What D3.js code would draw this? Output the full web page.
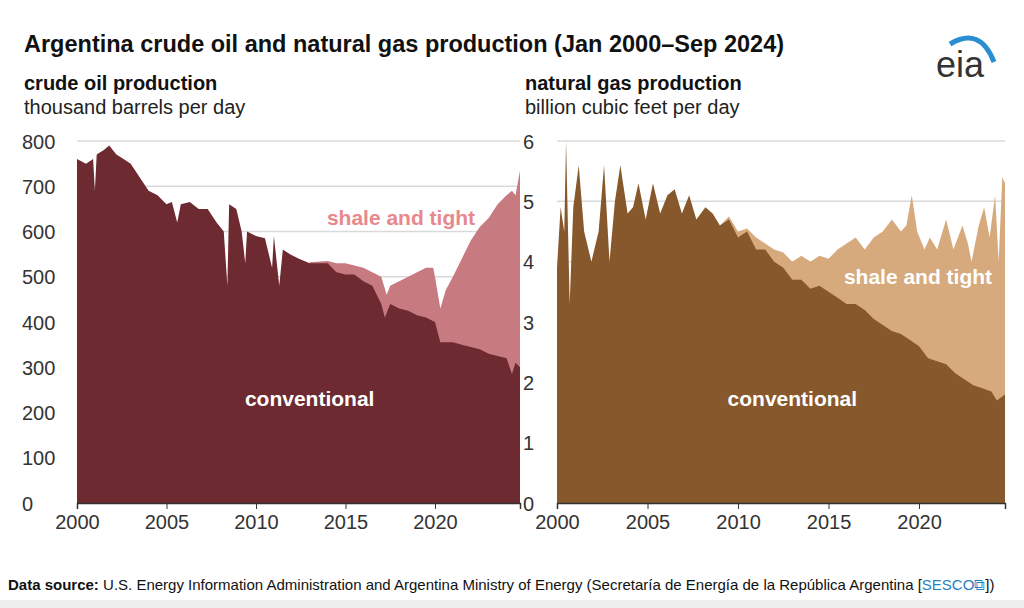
<!DOCTYPE html>
<html><head><meta charset="utf-8">
<script src="https://cdn.jsdelivr.net/npm/d3@7"></script>
<style>body{margin:0;background:#fff}svg{font-family:"Liberation Sans",Arial,sans-serif}</style>
</head><body><svg id="c" width="1024" height="608"></svg>
<script>
const oilYears=[2000.0,2000.5,2000.9,2001.0,2001.1,2001.5,2001.8,2002.2,2002.6,2003.0,2003.5,2004.0,2004.5,2005.0,2005.3,2005.6,2005.8,2006.3,2006.8,2007.3,2007.8,2008.2,2008.4,2008.5,2008.9,2009.2,2009.4,2009.5,2010.0,2010.5,2010.9,2011.0,2011.3,2011.5,2011.9,2012.4,2013.0,2013.5,2014.0,2014.5,2015.0,2015.5,2016.0,2016.5,2017.0,2017.2,2017.5,2018.0,2018.5,2019.0,2019.5,2020.0,2020.3,2021.0,2021.5,2022.0,2022.5,2023.0,2023.5,2024.0,2024.3,2024.5,2024.75];
const oilConv=[760,750,760,690,770,780,790,770,760,750,720,690,680,660,665,620,660,665,650,650,620,600,480,660,650,600,530,600,590,585,520,590,480,560,550,540,530,530,530,510,505,505,490,480,440,410,440,430,425,415,410,400,355,355,350,345,340,330,325,320,285,310,300];
const oilTotYears=[2013.0,2014.0,2014.5,2015.0,2015.5,2016.0,2016.5,2017.0,2017.3,2017.5,2018.0,2018.5,2019.0,2019.5,2019.9,2020.0,2020.3,2020.6,2021.0,2021.5,2022.0,2022.5,2023.0,2023.5,2024.0,2024.3,2024.5,2024.75];
const oilTotal=[532,535,530,530,525,520,510,500,460,480,490,500,510,520,520,500,430,470,500,540,580,610,630,660,680,690,680,735];
const gasYears=[2000.0,2000.2,2000.4,2000.5,2000.7,2000.9,2001.2,2001.5,2001.9,2002.3,2002.6,2002.9,2003.2,2003.5,2003.9,2004.2,2004.5,2004.9,2005.3,2005.7,2006.1,2006.5,2006.9,2007.3,2007.7,2008.2,2008.6,2009.0,2009.5,2010.0,2010.5,2011.0,2011.5,2012.0,2012.5,2013.0,2013.5,2014.0,2014.5,2015.0,2015.5,2016.0,2016.5,2017.0,2017.5,2018.0,2018.5,2019.0,2019.5,2020.0,2020.5,2021.0,2021.5,2022.0,2022.5,2023.0,2023.5,2024.0,2024.3,2024.75];
const gasConv=[3.9,4.9,4.5,6.0,3.3,4.9,5.6,4.5,4.0,4.5,5.6,4.0,5.0,5.6,4.8,4.9,5.3,4.7,5.3,4.8,5.1,5.2,4.8,5.1,4.7,4.9,4.8,4.6,4.7,4.4,4.5,4.2,4.2,4.0,3.9,3.7,3.7,3.55,3.6,3.5,3.4,3.3,3.3,3.2,3.05,2.95,2.85,2.8,2.7,2.6,2.4,2.35,2.3,2.15,2.05,1.95,1.9,1.85,1.7,1.8];
const gasTotYears=[2009.0,2009.5,2010.0,2010.5,2011.0,2011.5,2012.0,2012.5,2013.0,2013.5,2014.0,2014.5,2015.0,2015.5,2016.0,2016.5,2017.0,2017.5,2018.0,2018.5,2019.0,2019.3,2019.6,2019.9,2020.3,2020.6,2021.0,2021.5,2021.9,2022.4,2022.7,2022.9,2023.3,2023.6,2023.9,2024.2,2024.4,2024.6,2024.75];
const gasTotal=[4.6,4.75,4.5,4.55,4.4,4.3,4.2,4.15,4.0,4.1,4.0,4.1,4.05,4.2,4.3,4.4,4.2,4.4,4.5,4.7,4.5,4.6,5.1,4.5,4.2,4.4,4.2,4.7,4.2,4.6,4.3,4.0,4.6,4.9,4.4,5.1,4.0,5.4,5.3];
const xTicks=[2000,2005,2010,2015,2020];
const oilTicks=[0,100,200,300,400,500,600,700,800];
const gasTicks=[0,1,2,3,4,5,6];

const svg=d3.select("#c");
svg.append("text").attr("x",24).attr("y",52).attr("font-size",23.5).attr("font-weight","bold").attr("fill","#111")
 .text("Argentina crude oil and natural gas production (Jan 2000\u2013Sep 2024)");
const lg=svg.append("g");
lg.append("text").attr("x",936).attr("y",77).attr("font-size",36).attr("fill","#333").text("eia");
lg.append("path").attr("d","M950,44 Q980,26 994,62").attr("fill","none").attr("stroke","#2a8fd1").attr("stroke-width",5);

function panel(x0,x1,ymax,ticks,convY,convV,totY,totV,cConv,cShale,title,unit,shaleLbl,shaleCol,lblX){
  const x=d3.scaleLinear().domain([2000,2024.75]).range([x0,x1]);
  const y=d3.scaleLinear().domain([0,ymax]).range([503,141]);
  const g=svg.append("g");
  g.append("text").attr("x",lblX).attr("y",90).attr("font-size",20).attr("font-weight","bold").attr("fill","#111").text(title);
  g.append("text").attr("x",lblX).attr("y",114).attr("font-size",20).attr("fill","#222").text(unit);
  g.append("g").selectAll("line").data(ticks).join("line").attr("x1",x0).attr("x2",x1)
   .attr("y1",d=>y(d)).attr("y2",d=>y(d)).attr("stroke","#d9d9d9").attr("stroke-width",1.5);
  const area=(ys,vs)=>d3.area().x(d=>x(d[0])).y0(y(0)).y1(d=>y(d[1]))(ys.map((t,i)=>[t,vs[i]]));
  g.append("path").attr("d",area(totY,totV)).attr("fill",cShale);
  g.append("path").attr("d",area(convY,convV)).attr("fill",cConv);
  const ya=d3.axisLeft(y).tickValues(ticks).tickFormat(d3.format("d")).tickSize(0).tickPadding(8);
  const ag=g.append("g").attr("transform",`translate(${x0},0)`).call(ya);
  ag.select(".domain").remove();
  ag.selectAll("text").attr("font-size",20).attr("fill","#333").attr("font-family","Liberation Sans, Arial").attr("dy","0.35em").attr("x",lblX-x0-2).attr("text-anchor","start");
  const xa=d3.axisBottom(x).tickValues(xTicks).tickFormat(d3.format("d")).tickSize(6);
  const xg=g.append("g").attr("transform","translate(0,503)").call(xa);
  xg.select(".domain").attr("stroke","#333").attr("stroke-width",1.5);
  xg.selectAll("line").attr("stroke","#333");
  xg.selectAll("text").attr("font-size",20).attr("fill","#333").attr("font-family","Liberation Sans, Arial").attr("dy","0.85em");
  g.append("text").attr("x",x(2013)).attr("y",406).attr("text-anchor","middle").attr("font-size",21).attr("font-weight","bold").attr("fill","#fff").text("conventional");
  g.append("text").attr("x",shaleLbl[0]).attr("y",shaleLbl[1]).attr("text-anchor","middle").attr("font-size",21).attr("font-weight","bold").attr("fill",shaleCol).text("shale and tight");
}
panel(77,520,800,oilTicks,oilYears,oilConv,oilTotYears,oilTotal,"#6e2a31","#c77a80","crude oil production","thousand barrels per day",[401,225],"#e8888d",24);
panel(557,1005,6,gasTicks,gasYears,gasConv,gasTotYears,gasTotal,"#87582b","#d6aa7c","natural gas production","billion cubic feet per day",[918,284],"#fff",525);

svg.append("rect").attr("x",0).attr("y",600).attr("width",1024).attr("height",8).attr("fill","#eeeeee");
const f=svg.append("text").attr("x",8).attr("y",590).attr("font-size",15).attr("fill","#111");
f.append("tspan").attr("font-weight","bold").text("Data source: ");
f.append("tspan").text("U.S. Energy Information Administration and Argentina Ministry of Energy (Secretaría de Energía de la República Argentina [");
f.append("tspan").attr("fill","#2a7fc1").text("SESCO\u29C9");
f.append("tspan").text("])");
</script></body></html>
